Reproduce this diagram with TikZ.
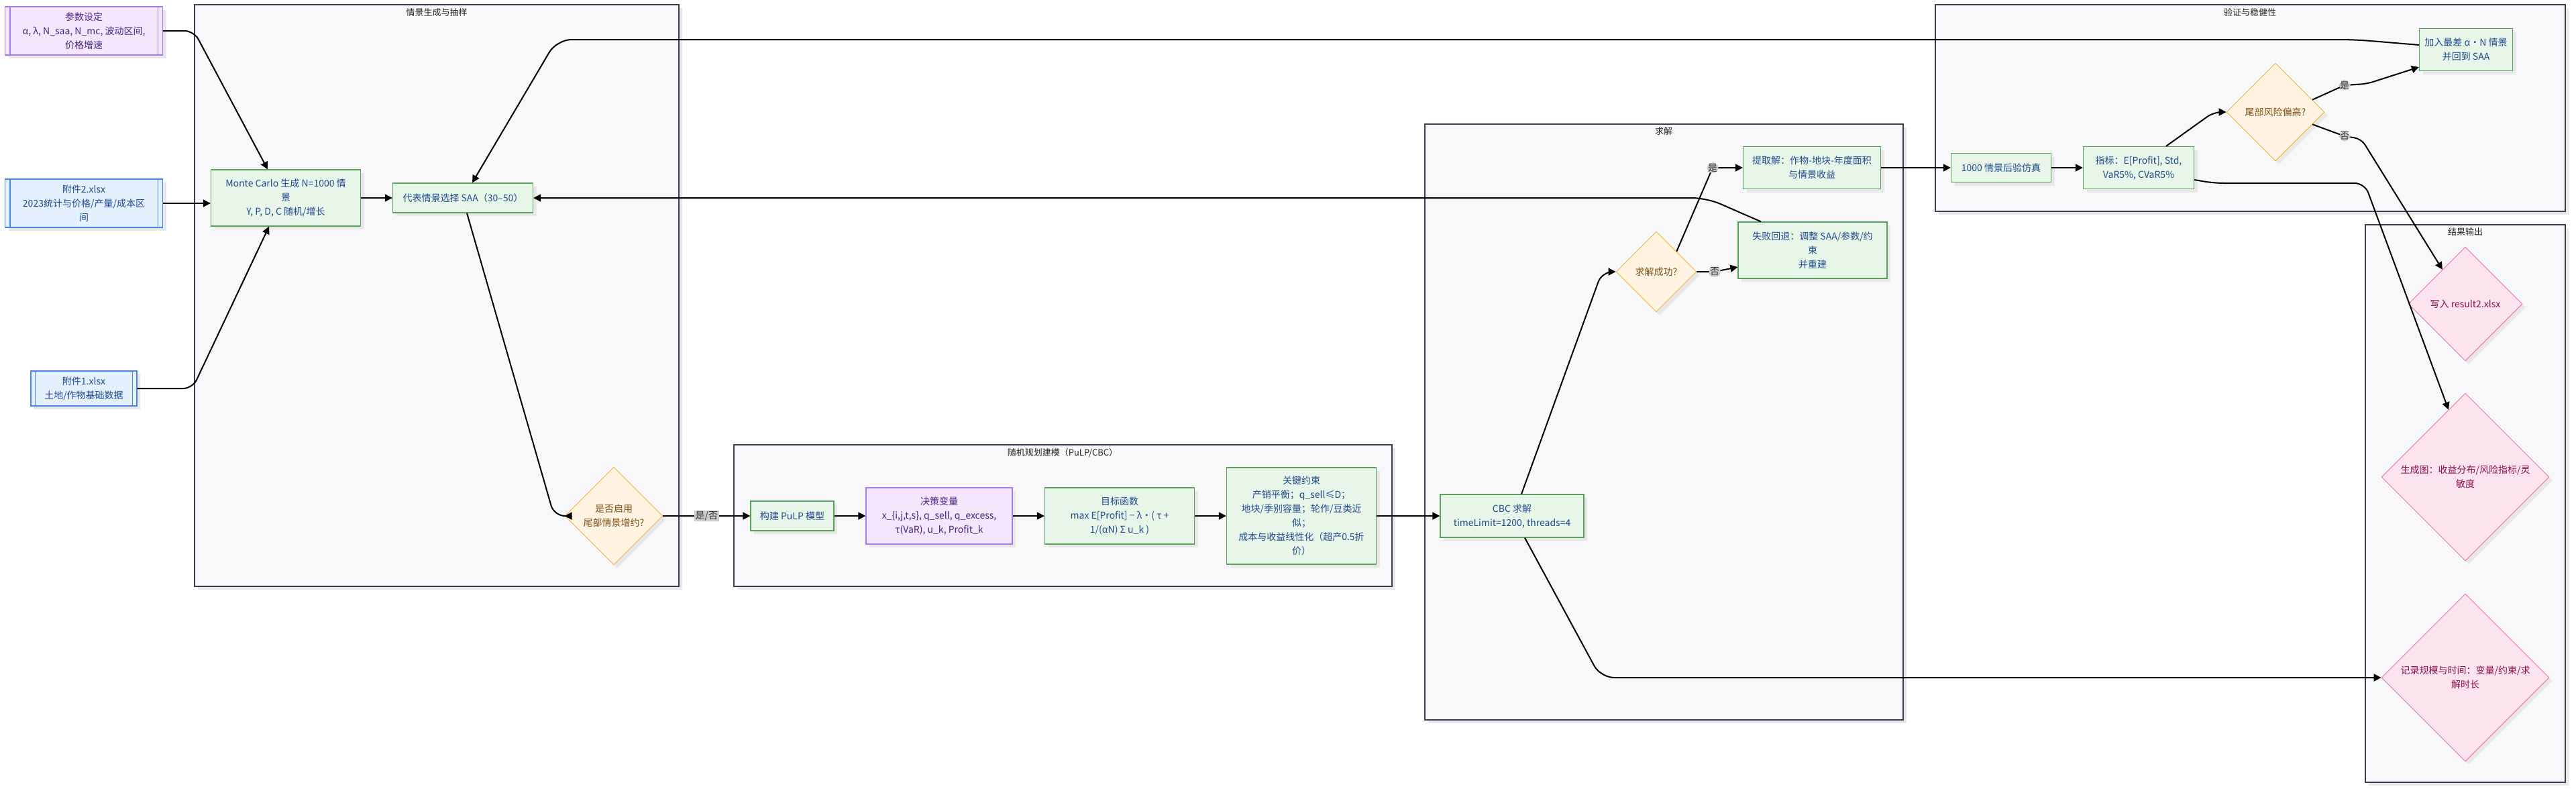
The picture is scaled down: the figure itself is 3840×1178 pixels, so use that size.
\documentclass[tikz,border=0pt]{standalone}
\usepackage{fontspec}
\setmainfont{Noto Sans CJK SC}
\usetikzlibrary{shapes.geometric,arrows.meta,shadows,calc}

\definecolor{gfill}{HTML}{E8F5E9}
\definecolor{gdraw}{HTML}{5C9F5C}
\definecolor{gtext}{HTML}{1F4A8C}
\definecolor{pfill}{HTML}{F3E6FD}
\definecolor{pdraw}{HTML}{A57CF0}
\definecolor{ptext}{HTML}{4A2380}
\definecolor{bfill}{HTML}{E4F0FD}
\definecolor{bdraw}{HTML}{4A86E0}
\definecolor{btext}{HTML}{1E4A8C}
\definecolor{ofill}{HTML}{FFF3E2}
\definecolor{odraw}{HTML}{F2B443}
\definecolor{otext}{HTML}{7A5218}
\definecolor{kfill}{HTML}{FCE4EE}
\definecolor{kdraw}{HTML}{E677A8}
\definecolor{ktext}{HTML}{880E4F}
\definecolor{cfill}{HTML}{F8F8FA}
\definecolor{cdraw}{HTML}{3B3B52}
\definecolor{lfill}{HTML}{CCCCCC}

\tikzset{
  shad/.style={drop shadow={shadow xshift=5pt,shadow yshift=-5pt,fill=black!9,opacity=1}},
  base/.style={shad, font=\fontsize{14}{21}\selectfont, align=center, inner sep=0pt},
  gbox/.style={base, rectangle, fill=gfill, draw=gdraw, line width=1.3pt, text=gtext},
  pbox/.style={base, rectangle, fill=pfill, draw=pdraw, line width=1.3pt, text=ptext},
  inbox/.style={base, rectangle, fill=bfill, draw=bdraw, line width=1.3pt, text=btext},
  purpin/.style={base, rectangle, fill=pfill, draw=pdraw, line width=1.3pt, text=ptext},
  odia/.style={base, diamond, aspect=1, fill=ofill, draw=odraw, line width=0.9pt, text=otext},
  kdia/.style={base, diamond, aspect=1, fill=kfill, draw=kdraw, line width=0.9pt, text=ktext},
  cluster/.style={shad, fill=cfill, draw=cdraw, line width=1.8pt},
  ctitle/.style={font=\fontsize{13}{15}\selectfont, text=black!85},
  elabel/.style={fill=lfill, text=black!80, font=\fontsize{14}{16}\selectfont, inner sep=1.5pt},
  edge/.style={draw=black, line width=2pt, -{Triangle[length=11pt,width=11pt]}},
}

\begin{document}
\begin{tikzpicture}[x=1pt,y=-1pt]
\useasboundingbox (0,0) rectangle (3840,1178);
\fill[white] (0,0) rectangle (3840,1178);

% clusters
\draw[cluster] (290,7) rectangle (1012,874);
\node[ctitle] (t1) at (651,19) {情景生成与抽样};
\draw[cluster] (1094,663) rectangle (2075,874);
\node[ctitle] (t2) at (1584,675) {随机规划建模（PuLP/CBC）};
\draw[cluster] (2124,185) rectangle (2837,1073);
\node[ctitle] (t3) at (2480,196) {求解};
\draw[cluster] (2885,7) rectangle (3824,315);
\node[ctitle] (t4) at (3354,19) {验证与稳健性};
\draw[cluster] (3526,335) rectangle (3824,1166);
\node[ctitle] (t5) at (3675,346) {结果输出};

% inputs
\node[purpin, minimum width=235pt, minimum height=72pt] (p1) at (125,46) {参数设定\\α, λ, N\_saa, N\_mc, 波动区间,\\价格增速};
\draw[pdraw, line width=1.3pt] ($(p1.north west)+(8,0)$) -- ($(p1.south west)+(8,0)$);
\draw[pdraw, line width=1.3pt] ($(p1.north east)+(-8,0)$) -- ($(p1.south east)+(-8,0)$);
\node[inbox, minimum width=235pt, minimum height=72pt] (p2) at (125,303) {附件2.xlsx\\2023统计与价格/产量/成本区\\间};
\draw[bdraw, line width=1.3pt] ($(p2.north west)+(8,0)$) -- ($(p2.south west)+(8,0)$);
\draw[bdraw, line width=1.3pt] ($(p2.north east)+(-8,0)$) -- ($(p2.south east)+(-8,0)$);
\node[inbox, minimum width=158pt, minimum height=52pt] (p3) at (125,579) {附件1.xlsx\\土地/作物基础数据};
\draw[bdraw, line width=1.3pt] ($(p3.north west)+(7,0)$) -- ($(p3.south west)+(7,0)$);
\draw[bdraw, line width=1.3pt] ($(p3.north east)+(-7,0)$) -- ($(p3.south east)+(-7,0)$);

% scenario cluster
\node[gbox, minimum width=223pt, minimum height=84pt] (mc) at (426,295) {Monte Carlo 生成 N=1000 情\\景\\Y, P, D, C 随机/增长};
\node[gbox, minimum width=209pt, minimum height=44pt] (saa) at (690,295) {代表情景选择 SAA（30–50）};
\node[odia, minimum width=146pt, minimum height=146pt] (d1) at (915,769) {是否启用\\尾部情景增约?};

% model cluster
\node[gbox, minimum width=124pt, minimum height=44pt] (build) at (1181,769) {构建 PuLP 模型};
\node[pbox, minimum width=218pt, minimum height=84pt] (dv) at (1400,769) {决策变量\\x\_\{i,j,t,s\}, q\_sell, q\_excess,\\τ(VaR), u\_k, Profit\_k};
\node[gbox, minimum width=223pt, minimum height=84pt] (obj) at (1669,769) {目标函数\\max E[Profit] − λ·( τ +\\1/(αN) Σ u\_k )};
\node[gbox, minimum width=223pt, minimum height=144pt] (cons) at (1940,769) {关键约束\\产销平衡；q\_sell≤D；\\地块/季别容量；轮作/豆类近\\似；\\成本与收益线性化（超产0.5折\\价）};

% solve cluster
\node[gbox, minimum width=214pt, minimum height=64pt] (cbc) at (2254,769) {CBC 求解\\timeLimit=1200, threads=4};
\node[odia, minimum width=120pt, minimum height=120pt] (d2) at (2469,405) {求解成功?};
\node[gbox, minimum width=205pt, minimum height=63pt] (extract) at (2701,250) {提取解：作物-地块-年度面积\\与情景收益};
\node[gbox, minimum width=222pt, minimum height=84pt] (fail) at (2702,373) {失败回退：调整 SAA/参数/约\\束\\并重建};

% verify cluster
\node[gbox, minimum width=149pt, minimum height=43pt] (sim) at (2983,250) {1000 情景后验仿真};
\node[gbox, minimum width=165pt, minimum height=63pt] (metric) at (3188,250) {指标：E[Profit], Std,\\VaR5\%, CVaR5\%};
\node[odia, minimum width=146pt, minimum height=146pt] (d3) at (3392,167) {尾部风险偏高?};
\node[gbox, minimum width=139pt, minimum height=63pt] (addw) at (3676,74) {加入最差 α·N 情景\\并回到 SAA};

% output cluster
\node[kdia, minimum width=170pt, minimum height=170pt] (wres) at (3675,453) {写入 result2.xlsx};
\node[kdia, minimum width=250pt, minimum height=250pt] (chart) at (3675,711) {生成图：收益分布/风险指标/灵\\敏度};
\node[kdia, minimum width=250pt, minimum height=250pt] (rec) at (3675,1010) {记录规模与时间：变量/约束/求\\解时长};

% edges
\draw[edge, rounded corners=14pt] (p1.east) -- (289,46) -- ($(mc.north)+(-27,0)$);
\draw[edge] (p2.east) -- (p2.east -| mc.west);
\draw[edge, rounded corners=14pt] (p3.east) -- (287,579) -- ($(mc.south)+(-25,0)$);
\draw[edge] (mc.east) -- (saa.west);
\draw[edge, rounded corners=16pt] ($(saa.south)+(6,0)$) -- (826,769) -- (d1.west);
\draw[edge] (d1.east) -- node[elabel] {是/否} (build.west);
\draw[edge] (build.east) -- (dv.west);
\draw[edge] (dv.east) -- (obj.west);
\draw[edge] (obj.east) -- (cons.west);
\draw[edge] (cons.east) -- (cbc.west);
\draw[edge, rounded corners=16pt] ($(cbc.north)+(14,0)$) -- (2388,405) -- (d2.west);
\draw[edge, rounded corners=20pt] ($(cbc.south)+(19,0)$) -- (2386,1010) -- (rec.west);
\draw[edge, rounded corners=8pt] (d2.north east) -- (2553,250) node[elabel] {是} -- (extract.west);
\draw[edge, rounded corners=6pt] (d2.east) -- (2556,405) node[elabel] {否} -- ($(fail.west)+(0,25)$);
\draw[edge, rounded corners=22pt] ($(fail.north)+(-77,0)$) -- (2544,295) -- (saa.east);
\draw[edge] (extract.east) -- (sim.west);
\draw[edge] (sim.east) -- (metric.west);
\draw[edge, rounded corners=12pt] ($(metric.north)+(41,0)$) -- (3300,167) -- (d3.west);
\draw[edge, rounded corners=10pt] ($(d3.east)!0.25!(d3.north)$) -- (3495,127) node[elabel] {是} -- (3528,125) -- ($(addw.west)+(0,26)$);
\draw[edge, rounded corners=10pt] ($(d3.east)!0.25!(d3.south)$) -- (3495,203) node[elabel] {否} -- (3520,207) -- ($(wres.west)!0.6!(wres.north)$);
\draw[edge, rounded corners=15pt] ($(metric.east)+(0,18)$) -- (3300,273) -- (3525,273) -- ($(chart.north)!0.2!(chart.west)$);
\draw[edge, rounded corners=22pt] ($(addw.west)+(0,-7)$) -- (3510,59) -- (830,59) -- ($(saa.north)+(14,0)$);
\end{tikzpicture}
\end{document}
